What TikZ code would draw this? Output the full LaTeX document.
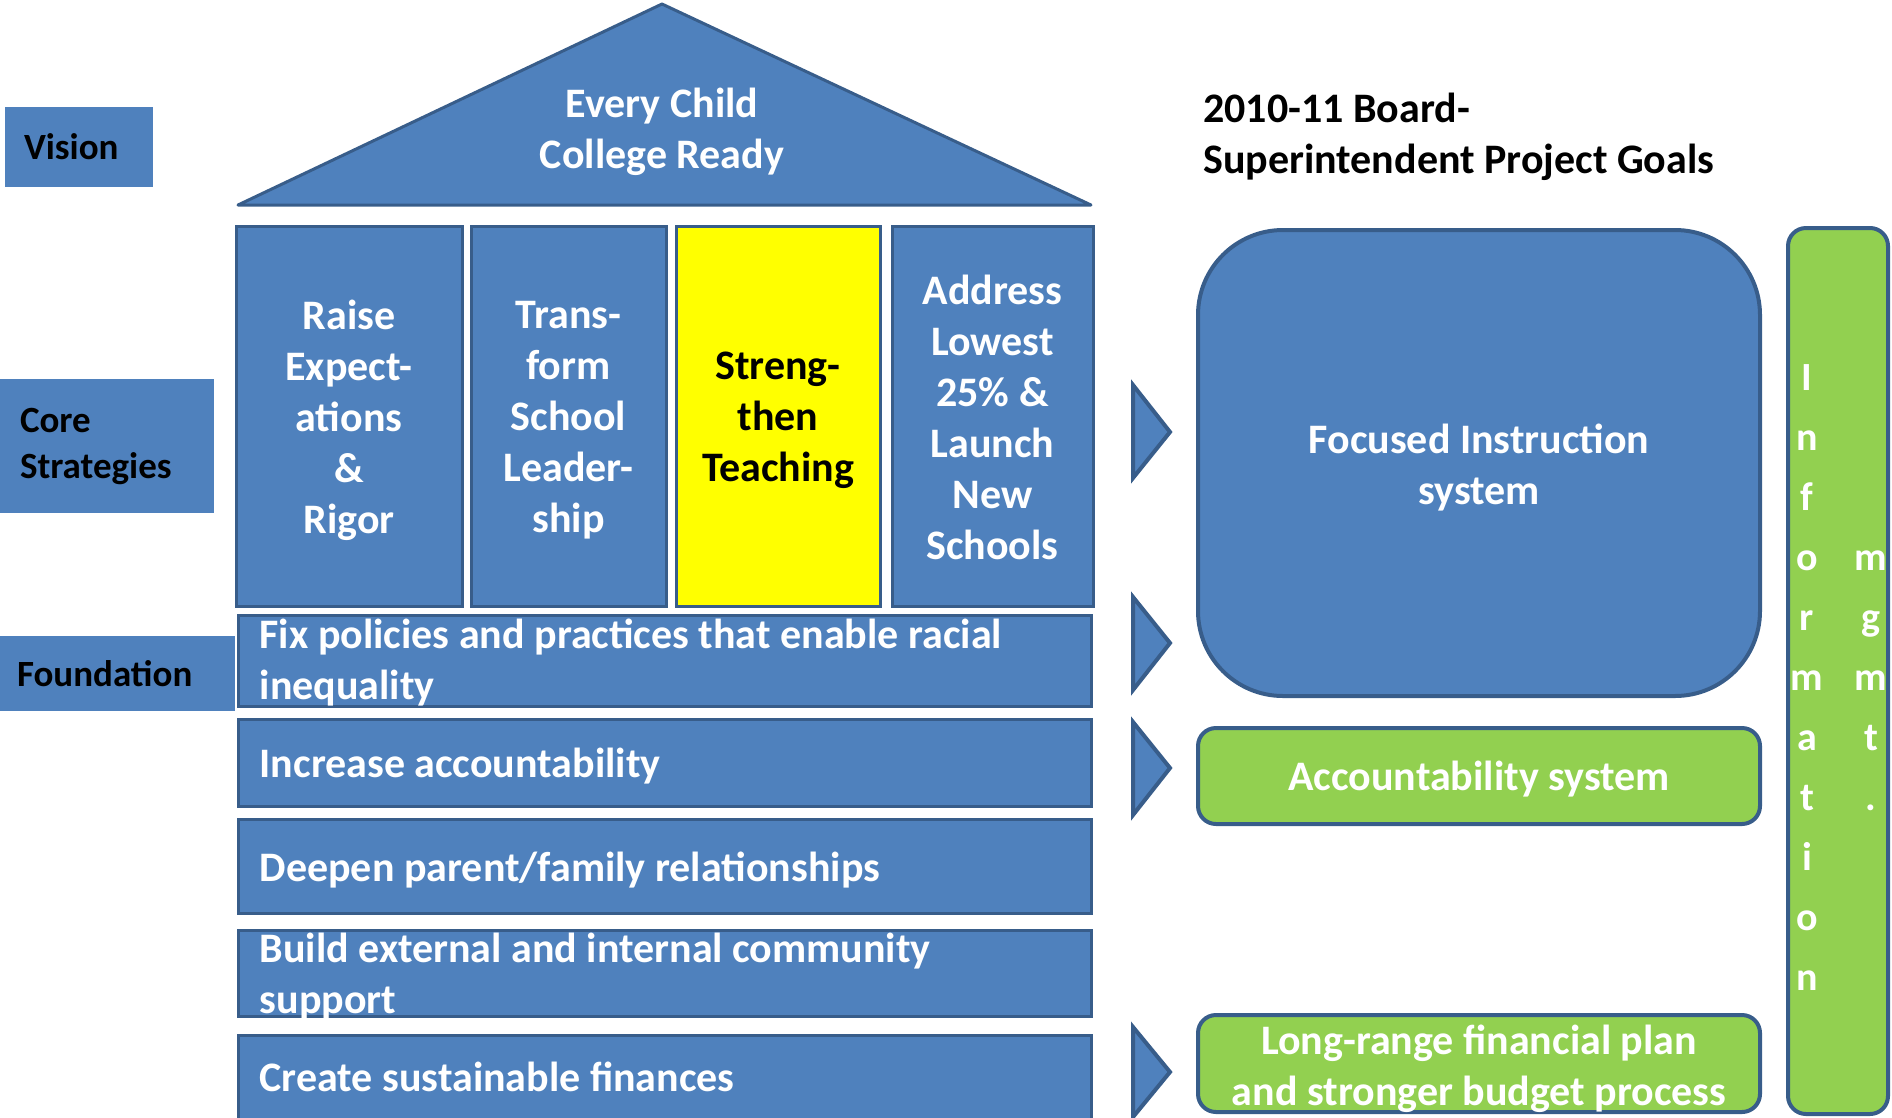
\documentclass[tikz,border=0pt]{standalone}
\usepackage{fontspec}
\setmainfont{Carlito}
\definecolor{blu}{HTML}{4F81BD}
\definecolor{bdr}{HTML}{385D8A}
\definecolor{grn}{HTML}{92D050}
\definecolor{yel}{HTML}{FFFF00}
\begin{document}
\begin{tikzpicture}[x=1pt,y=-1pt,
  big/.style={font=\bfseries\fontsize{42}{51}\selectfont},
  lbl/.style={font=\bfseries\fontsize{37}{46}\selectfont},
  ltr/.style={font=\bfseries\fontsize{40}{46}\selectfont, text=white, anchor=base, inner sep=0pt},
  pillar/.style={draw=bdr, line width=3pt, fill=blu, minimum height=380pt, inner sep=0pt},
  ptext/.style={big, text=white, align=center, inner sep=0pt, yshift=-4pt},
  bar/.style={draw=bdr, line width=3pt, fill=blu, minimum width=853pt, inner sep=0pt},
  btext/.style={big, text=white, align=flush left, anchor=west, inner sep=0pt, yshift=-4pt},
  tag/.style={fill=blu, text=black, lbl, align=flush left, inner ysep=0pt},
  goal/.style={draw=bdr, line width=4pt, minimum width=562pt, inner sep=0pt},
  gtext/.style={big, text=white, align=center, inner sep=0pt, yshift=-5pt},
  marker/.style={draw=bdr, line width=4pt, fill=blu, line join=miter}
]
\useasboundingbox (0,0) rectangle (1892,1117);

% roof
\draw[draw=bdr, line width=3pt, fill=blu, line join=round] (662,4) -- (1091,205) -- (238,205) -- cycle;
\node[big, text=white, align=center] (roof) at (662,132) {Every Child\\College Ready};

% left labels
\node[tag, minimum width=148pt, minimum height=80pt, text width=110pt, inner xsep=19pt] (vision) at (79,147) {Vision};
\node[tag, minimum width=214pt, minimum height=134pt, text width=174pt, inner xsep=20pt] (core) at (107,446) {Core\\Strategies};
\node[tag, minimum width=235pt, minimum height=75pt, text width=201pt, inner xsep=17pt] (found) at (117.5,673.5) {Foundation};

% pillars
\node[pillar, minimum width=226pt] (p1) at (349,416) {};
\node[pillar, minimum width=195pt] (p2) at (568.5,416) {};
\node[pillar, minimum width=204pt, fill=yel] (p3) at (778,416) {};
\node[pillar, minimum width=201pt] (p4) at (992.5,416) {};
\node[ptext] (p1t) at (p1.center) {Raise\\Expect-\\ations\\\&\\Rigor};
\node[ptext] (p2t) at (p2.center) {Trans-\\form\\School\\Leader-\\ship};
\node[ptext, text=black] (p3t) at (p3.center) {Streng-\\then\\Teaching};
\node[ptext, yshift=3pt] (p4t) at (p4.center) {Address\\Lowest\\25\% \&\\Launch\\New\\Schools};

% foundation bars
\node[bar, minimum height=91pt] (b1) at (664.5,660.5) {};
\node[bar, minimum height=87pt] (b2) at (664.5,762.5) {};
\node[bar, minimum height=94pt] (b3) at (664.5,866) {};
\node[bar, minimum height=86pt] (b4) at (664.5,973) {};
\node[bar, minimum height=84pt] (b5) at (664.5,1077) {};
\node[btext, yshift=2pt] (b1t) at ([xshift=23pt]b1.west) {Fix policies and practices that enable racial\\inequality};
\node[btext] (b2t) at ([xshift=23pt]b2.west) {Increase accountability};
\node[btext] (b3t) at ([xshift=23pt]b3.west) {Deepen parent/family relationships};
\node[btext] (b4t) at ([xshift=23pt]b4.west) {Build external and internal community\\support};
\node[btext, yshift=4pt] (b5t) at ([xshift=23pt]b5.west) {Create sustainable finances};

% markers
\draw[marker] (1133,385) -- (1170,432) -- (1133,478) -- cycle;
\draw[marker] (1133,597) -- (1170,643) -- (1133,690) -- cycle;
\draw[marker] (1133,722) -- (1170,768) -- (1133,815) -- cycle;
\draw[marker] (1133,1027) -- (1170,1072) -- (1133,1117) -- cycle;

% title
\node[big, text=black, align=left, anchor=west, inner sep=0pt] (title) at (1203,137) {2010-11 Board-\\Superintendent Project Goals};

% goals
\node[goal, fill=blu, minimum height=466pt, rounded corners=85pt] (fis) at (1479,463) {};
\node[goal, fill=grn, minimum height=96pt, rounded corners=18pt] (acc) at (1479,776) {};
\node[goal, fill=grn, minimum height=97pt, rounded corners=18pt] (fin) at (1479,1063.5) {};
\node[gtext] (fist) at (fis.center) {Focused Instruction\\system};
\node[gtext, yshift=2pt] (acct) at (acc.center) {Accountability system};
\node[gtext] (fint) at (fin.center) {Long-range financial plan\\and stronger budget process};

% information mgmt column
\node[draw=bdr, line width=4pt, fill=grn, minimum width=100pt, minimum height=886pt, rounded corners=18pt] (info) at (1838,671) {};
\node[ltr] (i1) at (1807,390) {I};
\node[ltr] (i2) at (1807,450) {n};
\node[ltr] (i3) at (1807,510) {f};
\node[ltr] (i4) at (1807,570) {o};
\node[ltr] (i5) at (1807,630) {r};
\node[ltr] (i6) at (1807,690) {m};
\node[ltr] (i7) at (1807,750) {a};
\node[ltr] (i8) at (1807,810) {t};
\node[ltr] (i9) at (1807,870) {i};
\node[ltr] (i10) at (1807,930) {o};
\node[ltr] (i11) at (1807,990) {n};
\node[ltr] (m1) at (1871,570) {m};
\node[ltr] (m2) at (1871,630) {g};
\node[ltr] (m3) at (1871,690) {m};
\node[ltr] (m4) at (1871,750) {t};
\node[ltr] (m5) at (1871,810) {.};
\end{tikzpicture}
\end{document}
